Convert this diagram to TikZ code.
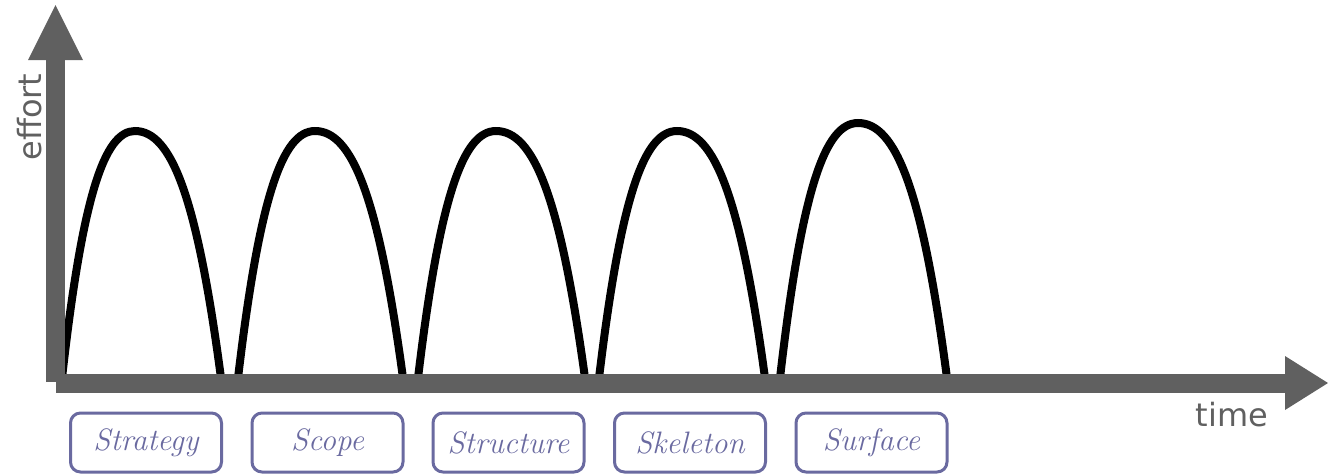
\documentclass[tikz,border=0pt]{standalone}
\usepackage{fontspec}
\newfontfamily\axisfont{DejaVu Sans}
\definecolor{axisgray}{HTML}{606060}
\definecolor{boxpurple}{HTML}{6A6AA0}
\newcommand{\humpcurve}[4]{%
  \draw[curve] (#1,378) .. controls ({#1+0.28*(#2-#1)},{#4+65}) and ({#2-0.42*(#2-#1)},#4) .. (#2,#4)
    .. controls ({#2+0.42*(#3-#2)},#4) and ({#3-0.28*(#3-#2)},{#4+65}) .. (#3,378);}
\begin{document}
\begin{tikzpicture}[x=1pt,y=-1pt,
  curve/.style={line width=8pt,black},
  shaft/.style={line width=19pt,axisgray},
  head/.style={fill=axisgray},
  phase/.style={draw=boxpurple,line width=3pt,rounded corners=10pt,minimum width=151pt,minimum height=59pt,
    inner sep=0pt,text=boxpurple,font=\itshape\fontsize{31}{31}\selectfont},
  axislabel/.style={text=axisgray,inner sep=0pt,font=\axisfont\fontsize{32}{32}\selectfont}]
\useasboundingbox (0,0) rectangle (1328,475);
% humps
\humpcurve{62}{135}{221}{131}
\humpcurve{238}{315}{403}{131}
\humpcurve{418}{496}{585}{131}
\humpcurve{599}{677}{765}{131}
\humpcurve{780}{858}{947}{123}
% axes
\coordinate (ybot) at (55.5,382);
\coordinate (ytop) at (55.5,60);
\coordinate (xleft) at (56,383);
\coordinate (xright) at (1285,383);
\draw[shaft] (ybot) -- (ytop);
\fill[head] (28,60) -- (55.5,5) -- (83,60) -- cycle;
\draw[shaft] (xleft) -- (xright);
\fill[head] (1285,356) -- (1328,383) -- (1285,410) -- cycle;
\node[axislabel,rotate=90] (effort) at (30,117) {effort};
\node[axislabel] (time) at (1232,415) {time};
% phases
\node[phase] (strategy) at (146,442.5) {Strategy};
\node[phase] (scope) at (327.5,442.5) {Scope};
\node[phase] (structure) at (508.5,442.5) {Structure};
\node[phase] (skeleton) at (690,442.5) {Skeleton};
\node[phase] (surface) at (871.5,442.5) {Surface};
\end{tikzpicture}
\end{document}
